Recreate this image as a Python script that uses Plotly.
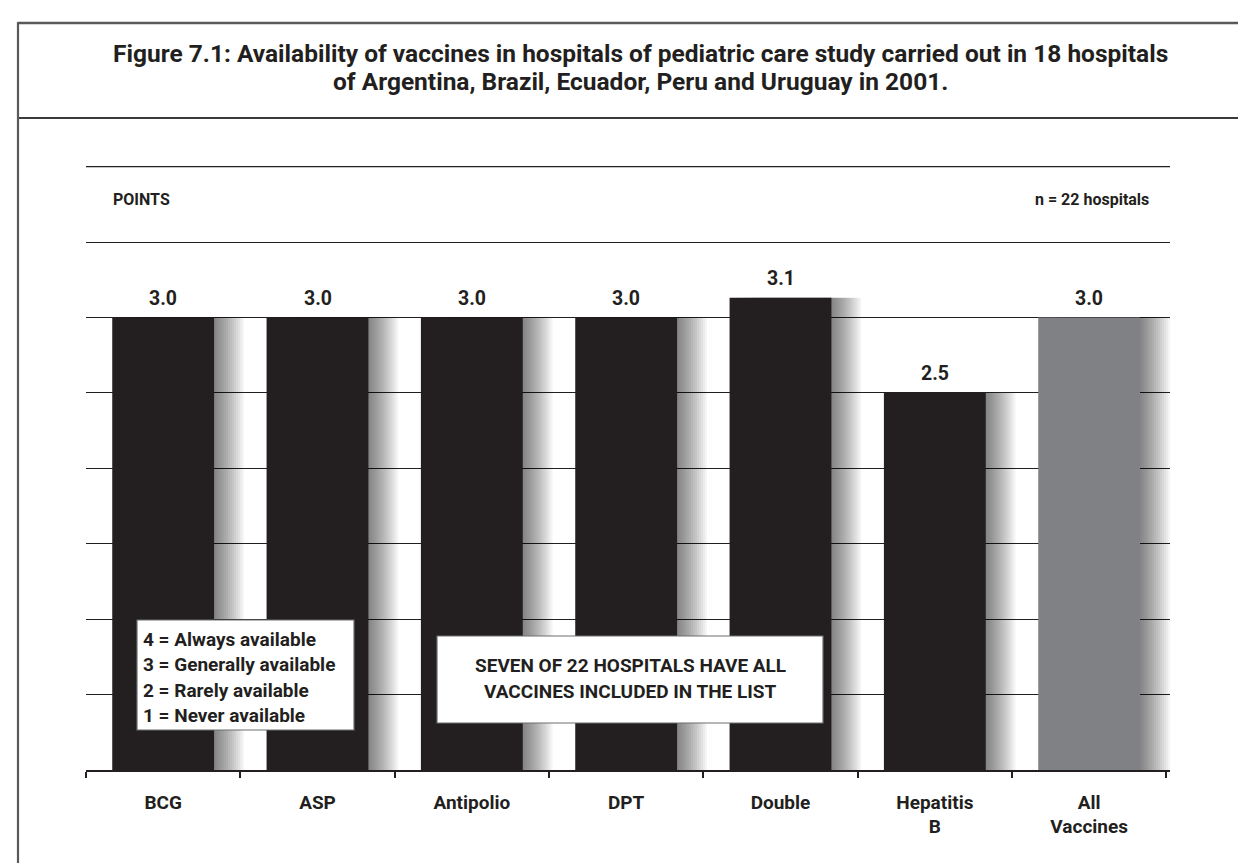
import plotly.graph_objects as go

# ---- data ----
categories = ["BCG", "ASP", "Antipolio", "DPT", "Double", "Hepatitis<br>B", "All<br>Vaccines"]
values = [3.0, 3.0, 3.0, 3.0, 3.13, 2.5, 3.0]
value_labels = ["3.0", "3.0", "3.0", "3.0", "3.1", "2.5", "3.0"]
y_ticks = [0, 0.5, 1.0, 1.5, 2.0, 2.5, 3.0, 3.5, 4.0]
scale_lines = ["4 = Always available", "3 = Generally available", "2 = Rarely available", "1 = Never available"]
note_lines = ["SEVEN OF 22 HOSPITALS HAVE ALL", "VACCINES INCLUDED IN THE LIST"]
title_lines = [
    "Figure 7.1: Availability of vaccines in hospitals of pediatric care study carried out in 18 hospitals",
    "of Argentina, Brazil, Ecuador, Peru and Uruguay in 2001.",
]

# ---- styles ----
DARK = "#231f20"
GRAY = "#808184"
bar_colors = [DARK] * 6 + [GRAY]
FONT = "Roboto, 'Liberation Sans', Arial, sans-serif"
W, H = 1246, 863
L, R, T, B = 78, 84, 158, 101
PW, PH = W - L - R, H - T - B


def px(x):
    return (x - L) / PW


def py(y):
    return (H - B - y) / PH


BAR_W = 0.66
fig = go.Figure()

# soft shadows to the right of each bar
N_SH = 15
step = 2.0 / (PW / len(categories))
for k in range(N_SH, 0, -1):
    fig.add_trace(go.Bar(
        x=categories, y=values, width=BAR_W, offset=-BAR_W / 2 + k * step,
        marker=dict(color="rgba(0,0,0,0.04)", line=dict(width=0)),
        hoverinfo="skip", showlegend=False,
    ))

fig.add_trace(go.Bar(
    x=categories, y=values, width=BAR_W, offset=-BAR_W / 2,
    marker=dict(color=bar_colors, line=dict(width=0)),
    hoverinfo="skip", showlegend=False,
))

annotations = []
for c, v, t in zip(categories, values, value_labels):
    annotations.append(dict(x=c, y=v, xref="x", yref="y", text=t, showarrow=False,
                            yanchor="middle", yshift=19,
                            font=dict(family=FONT, size=19.5, color=DARK, weight="bold")))

# titles
annotations.append(dict(x=px(632), y=py(45), xref="paper", yref="paper", text=title_lines[0],
                        showarrow=False, xanchor="center", yanchor="middle",
                        font=dict(family=FONT, size=24.5, color=DARK, weight="bold")))
annotations.append(dict(x=px(632), y=py(74), xref="paper", yref="paper", text=title_lines[1],
                        showarrow=False, xanchor="center", yanchor="middle",
                        font=dict(family=FONT, size=24.5, color=DARK, weight="bold")))

annotations.append(dict(x=px(103), y=py(191), xref="paper", yref="paper", text="POINTS",
                        showarrow=False, xanchor="left", yanchor="middle",
                        font=dict(family=FONT, size=16, color=DARK, weight="bold")))
annotations.append(dict(x=px(1143), y=py(191), xref="paper", yref="paper", text="n = 22 hospitals",
                        showarrow=False, xanchor="right", yanchor="middle",
                        font=dict(family=FONT, size=16, color=DARK, weight="bold")))

# scale legend box
for i, line in enumerate(scale_lines):
    annotations.append(dict(x=px(133), y=py(631 + i * 25.5), xref="paper", yref="paper", text=line,
                            showarrow=False, xanchor="left", yanchor="middle",
                            font=dict(family=FONT, size=19, color=DARK, weight="bold")))
# note box
for i, line in enumerate(note_lines):
    annotations.append(dict(x=px(622), y=py(657 + i * 26), xref="paper", yref="paper", text=line,
                            showarrow=False, xanchor="center", yanchor="middle",
                            font=dict(family=FONT, size=19, color=DARK, weight="bold")))

shapes = [
    # top gridline (at the edge of the value range)
    dict(type="line", xref="paper", yref="y", x0=0, x1=1, y0=y_ticks[-1], y1=y_ticks[-1],
         line=dict(color=DARK, width=1.4), layer="below"),
    # frame
    dict(type="line", xref="paper", yref="paper", x0=px(10), x1=px(W + 5), y0=py(15), y1=py(15),
         line=dict(color="#58595b", width=2.5)),
    dict(type="line", xref="paper", yref="paper", x0=px(10), x1=px(W + 5), y0=py(110), y1=py(110),
         line=dict(color="#3a3a3c", width=1.8)),
    dict(type="line", xref="paper", yref="paper", x0=px(10), x1=px(10), y0=py(14), y1=py(H + 5),
         line=dict(color="#58595b", width=2.2)),
    # legend box
    dict(type="rect", xref="paper", yref="paper", x0=px(129), x1=px(346), y0=py(722), y1=py(612),
         fillcolor="white", line=dict(color="#6d6e71", width=1.2), layer="above"),
    # note box
    dict(type="rect", xref="paper", yref="paper", x0=px(429), x1=px(815), y0=py(715), y1=py(628),
         fillcolor="white", line=dict(color="#6d6e71", width=1.2), layer="above"),
]

fig.update_layout(
    width=W, height=H,
    margin=dict(l=L, r=R, t=T, b=B, pad=0),
    paper_bgcolor="white", plot_bgcolor="white",
    barmode="overlay", bargap=0.34,
    showlegend=False,
    annotations=annotations,
    shapes=shapes,
    font=dict(family=FONT, color=DARK),
)
fig.update_xaxes(
    type="category", tickson="boundaries", ticks="outside", ticklen=6, tickwidth=1.5,
    tickcolor=DARK, showline=True, linecolor=DARK, linewidth=1.5, showgrid=False,
    tickfont=dict(family=FONT, size=19, color=DARK, weight="bold"),
    ticklabelstandoff=14, fixedrange=True,
)
fig.update_yaxes(
    range=[0, 4.004], tickvals=y_ticks, showticklabels=False, ticks="",
    showgrid=True, gridcolor=DARK, gridwidth=1.4, zeroline=False, showline=False, fixedrange=True,
)

fig.write_html("out.html")
